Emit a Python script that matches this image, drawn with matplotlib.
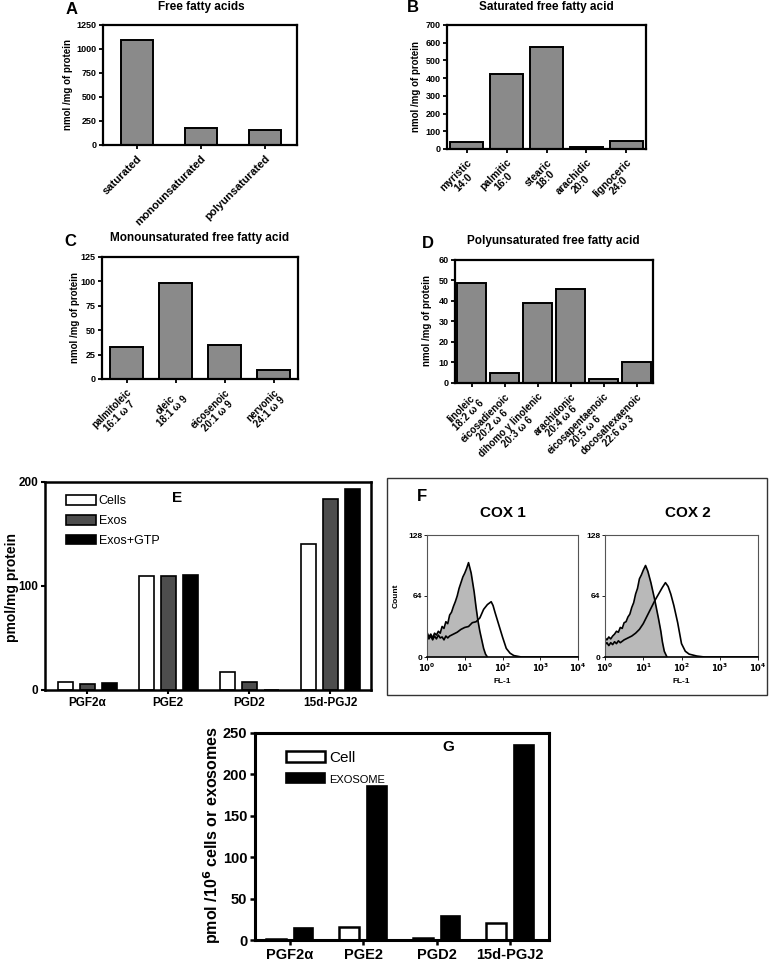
import numpy as np
import matplotlib
matplotlib.use('Agg')
import matplotlib.pyplot as plt
from matplotlib.patches import Rectangle

W, H = 769, 964

# --- Panel A-D: free fatty acids (nmol/mg protein) ---
A_LABELS = ['saturated', 'monounsaturated', 'polyunsaturated']
A_VALUES = [1095, 178, 152]

B_LABELS = ['myristic\n14:0', 'palmitic\n16:0', 'stearic\n18:0',
            'arachidic\n20:0', 'lignoceric\n24:0']
B_VALUES = [38, 422, 575, 10, 47]

C_LABELS = ['palmitoleic\n16:1 ω 7', 'oleic\n18:1 ω 9',
            'eicosenoic\n20:1 ω 9', 'nervonic\n24:1 ω 9']
C_VALUES = [33, 98, 35, 9]

D_LABELS = ['linoleic\n18:2 ω 6', 'eicosadienoic\n20:2 ω 6',
            'dihomo γ linolenic\n20:3 ω 6', 'arachidonic\n20:4 ω 6',
            'eicosapentaenoic\n20:5 ω 6', 'docosahexaenoic\n22:6 ω 3']
D_VALUES = [49, 5, 39, 46, 2, 10]

# --- Panel E: prostaglandins (pmol/mg protein) ---
PG_LABELS = ['PGF2α', 'PGE2', 'PGD2', '15d-PGJ2']
E_CELLS   = [8, 110, 17, 140]
E_EXOS    = [6, 110, 8, 184]
E_GTP     = [7, 111, 0, 193]

# --- Panel G: pmol / 10^6 cells or exosomes ---
G_CELL    = [1, 16, 3, 20]
G_EXOSOME = [15, 186, 29, 236]

# --- Panel F: flow cytometry histograms (log10 FL-1, count) ---
COX1_ISO_X = [0.0, 0.05, 0.1, 0.15, 0.2, 0.25, 0.3, 0.35, 0.4, 0.45, 0.5, 0.55, 0.6,
              0.65, 0.7, 0.75, 0.8, 0.85, 0.9, 0.95, 1.0, 1.05, 1.1,
              1.17, 1.25, 1.3, 1.35, 1.4, 1.45, 1.5, 1.55, 1.6]
COX1_ISO_Y = [26, 21, 24, 20, 25, 23, 27, 25, 32, 30, 37, 35, 44,
              47, 53, 58, 64, 72, 78, 84, 88, 93, 99,
              88, 68, 52, 38, 27, 18, 9, 3, 0]
COX1_POS_X = [0.0, 0.05, 0.1, 0.15, 0.2, 0.25, 0.3, 0.35, 0.4, 0.45, 0.5, 0.55, 0.6,
              0.7, 0.8, 0.9, 1.0, 1.1, 1.2,
              1.3, 1.4, 1.5, 1.6, 1.7, 1.75, 1.8, 1.9, 2.0, 2.1, 2.2, 2.3, 2.5, 4.0]
COX1_POS_Y = [23, 19, 22, 18, 22, 19, 23, 20, 21, 18, 22, 20, 22,
              24, 26, 29, 31, 32, 36,
              37, 41, 50, 55, 58, 54, 47, 34, 21, 9, 4, 1.5, 0, 0]
COX2_ISO_X = [0.0, 0.05, 0.1, 0.15, 0.2, 0.25, 0.3, 0.35, 0.4, 0.45, 0.5, 0.55, 0.6,
              0.65, 0.7, 0.75, 0.8, 0.85, 0.9, 0.95, 1.0, 1.06, 1.12,
              1.2, 1.3, 1.4, 1.46, 1.5, 1.55, 1.62]
COX2_ISO_Y = [20, 18, 21, 19, 22, 24, 27, 26, 31, 30, 36, 37, 42,
              45, 52, 57, 66, 72, 82, 86, 91, 96, 90,
              78, 60, 40, 27, 16, 6, 0]
COX2_POS_X = [0.0, 0.05, 0.1, 0.15, 0.2, 0.25, 0.3, 0.35, 0.4, 0.5, 0.6, 0.7, 0.8,
              0.9, 1.0, 1.1, 1.2, 1.3, 1.4, 1.5, 1.58, 1.65, 1.72, 1.8, 1.9, 2.0,
              2.1, 2.2, 2.4, 2.6, 4.0]
COX2_POS_Y = [13, 15, 12, 15, 13, 16, 14, 17, 15, 18, 20, 22, 25,
              29, 35, 43, 51, 59, 66, 73, 78, 74, 66, 54, 36, 14,
              6, 3, 1, 0, 0]

plt.rcParams.update({
    'font.family': ['Liberation Sans', 'DejaVu Sans'],
    'font.weight': 'bold',
    'axes.labelweight': 'bold',
})

fig = plt.figure(figsize=(W / 100, H / 100), dpi=100)


def add_ax(l, t, r, b):
    return fig.add_axes([l / W, 1 - b / H, (r - l) / W, (b - t) / H])


def ftxt(x, y, s, **kw):
    kw.setdefault('ha', 'center')
    kw.setdefault('va', 'center')
    fig.text(x / W, 1 - y / H, s, **kw)


def fatty_panel(ax, labels, values, ymax, ystep, width, xfs):
    x = np.arange(len(values))
    ax.bar(x, values, width, color='#8a8a8a', edgecolor='black', linewidth=1.4)
    ax.set_xlim(-0.5, len(values) - 0.5)
    ax.set_ylim(0, ymax)
    ax.set_yticks(np.arange(0, ymax + 1, ystep))
    ax.set_xticks(x)
    ax.set_xticklabels(labels, rotation=45, ha='right', va='top',
                       rotation_mode='anchor', ma='center', fontsize=xfs,
                       linespacing=1.0)
    for s in ax.spines.values():
        s.set_linewidth(1.6)
    ax.tick_params(direction='out', length=3, width=1.3, labelsize=6.5, pad=1.5)
    ax.tick_params(axis='x', labelsize=xfs, pad=3)


# Panel A
axA = add_ax(103, 25, 297, 145)
fatty_panel(axA, A_LABELS, A_VALUES, 1250, 250, 0.5, 8)
axA.set_xlim(-0.53, 2.5)
ftxt(201, 7, 'Free fatty acids', fontsize=8.5)
ftxt(72, 10, 'A', fontsize=12)
ftxt(68, 85, 'nmol /mg of protein', fontsize=7, rotation=90)

# Panel B
axB = add_ax(447, 25, 646, 149)
fatty_panel(axB, B_LABELS, B_VALUES, 700, 100, 0.83, 7.5)
ftxt(546, 7, 'Saturated free fatty acid', fontsize=8.5)
ftxt(413, 8, 'B', fontsize=12)
ftxt(416, 87, 'nmol /mg of protein', fontsize=7, rotation=90)

# Panel C
axC = add_ax(102, 257, 298, 379)
fatty_panel(axC, C_LABELS, C_VALUES, 125, 25, 0.68, 7)
ftxt(200, 238, 'Monounsaturated free fatty acid', fontsize=8.5)
ftxt(70, 242, 'C', fontsize=12)
ftxt(75, 318, 'nmol /mg of protein', fontsize=7, rotation=90)

# Panel D
axD = add_ax(455, 260, 653, 383)
fatty_panel(axD, D_LABELS, D_VALUES, 60, 10, 0.85, 7)
ftxt(553, 241, 'Polyunsaturated free fatty acid', fontsize=8.5)
ftxt(428, 243, 'D', fontsize=12)
ftxt(427, 321, 'nmol /mg of protein', fontsize=7, rotation=90)

# Panel E
axE = add_ax(45, 482, 371, 690)
xe = np.arange(len(PG_LABELS))
bw = 0.185
off = 0.27
axE.bar(xe - off, E_CELLS, bw, color='white', edgecolor='black', linewidth=1.2, label='Cells')
axE.bar(xe, E_EXOS, bw, color='#4d4d4d', edgecolor='black', linewidth=1.2, label='Exos')
axE.bar(xe + off, E_GTP, bw, color='black', edgecolor='black', linewidth=1.2, label='Exos+GTP')
axE.set_xlim(-0.52, 3.5)
axE.set_ylim(0, 200)
axE.set_yticks([0, 100, 200])
axE.set_xticks(xe)
axE.set_xticklabels(PG_LABELS, fontsize=8.5)
axE.tick_params(direction='out', length=3, width=1.5, labelsize=8.5, pad=2)
for s in axE.spines.values():
    s.set_linewidth(1.8)
axE.legend(loc='upper left', bbox_to_anchor=(0.03, 0.99), frameon=False,
           prop={'weight': 'normal', 'size': 9}, handlelength=2.4,
           handleheight=0.8, handletextpad=0.2, labelspacing=0.6)
ftxt(177, 498, 'E', fontsize=11)
ftxt(12, 587, 'pmol/mg protein', fontsize=10, rotation=90)

# Panel F
fig.patches.append(Rectangle((387 / W, 1 - 695 / H), (767 - 387) / W, (695 - 478) / H,
                             transform=fig.transFigure, fill=False,
                             edgecolor='#333333', linewidth=1.0))
ftxt(422, 497, 'F', fontsize=12)
ftxt(503, 513, 'COX 1', fontsize=11)
ftxt(688, 513, 'COX 2', fontsize=11)

hist_sets = [
    (add_ax(427, 535, 578, 657), COX1_ISO_X, COX1_ISO_Y, COX1_POS_X, COX1_POS_Y),
    (add_ax(605, 535, 758, 657), COX2_ISO_X, COX2_ISO_Y, COX2_POS_X, COX2_POS_Y),
]
for i, (ax, ix, iy, px, py) in enumerate(hist_sets):
    ix = 10 ** np.array(ix)
    px = 10 ** np.array(px)
    ax.fill_between(ix, iy, 0, color='#b9b9b9', linewidth=0)
    ax.plot(ix, iy, color='black', lw=1.2)
    ax.plot(px, py, color='black', lw=1.2)
    ax.set_xscale('log')
    ax.set_xlim(1, 1e4)
    ax.set_ylim(0, 128)
    ax.set_yticks([0, 64, 128])
    ax.set_xticks([1, 10, 100, 1000, 10000])
    ax.set_xticklabels([r'$10^0$', r'$10^1$', r'$10^2$', r'$10^3$', r'$10^4$'])
    ax.minorticks_off()
    ax.tick_params(direction='out', length=2, width=0.6, labelsize=6, pad=1.5)
    for s in ax.spines.values():
        s.set_linewidth(0.8)
        s.set_color('#555555')
    ax.spines['bottom'].set_color('black')
    ax.spines['bottom'].set_linewidth(1.2)
    ax.set_xlabel('FL-1', fontsize=6, labelpad=3)
    if i == 0:
        ax.set_ylabel('Count', fontsize=6, labelpad=6)

# Panel G
axG = add_ax(255, 733, 549, 940)
xg = np.arange(len(PG_LABELS))
axG.bar(xg - 0.19, G_CELL, 0.27, color='white', edgecolor='black', linewidth=1.8, label='Cell')
axG.bar(xg + 0.19, G_EXOSOME, 0.27, color='black', edgecolor='black', linewidth=1.2, label='EXOSOME')
axG.set_xlim(-0.47, 3.53)
axG.set_ylim(0, 250)
axG.set_yticks(np.arange(0, 251, 50))
axG.set_xticks(xg)
axG.set_xticklabels(PG_LABELS, fontsize=10.5)
axG.tick_params(direction='out', length=3.5, width=1.8, labelsize=10.5, pad=2)
for s in axG.spines.values():
    s.set_linewidth(2.2)
legG = axG.legend(loc='upper left', bbox_to_anchor=(0.06, 0.98), frameon=False,
                  prop={'weight': 'normal', 'size': 11}, handlelength=2.5,
                  handleheight=0.7, handletextpad=0.3, labelspacing=0.5)
legG.get_texts()[1].set_fontsize(8)
ftxt(448, 747, 'G', fontsize=11)
ftxt(212, 835, r'pmol /10$^6$ cells or exosomes', fontsize=11.5, rotation=90)

fig.savefig('out.png', dpi=100)
plt.close(fig)
